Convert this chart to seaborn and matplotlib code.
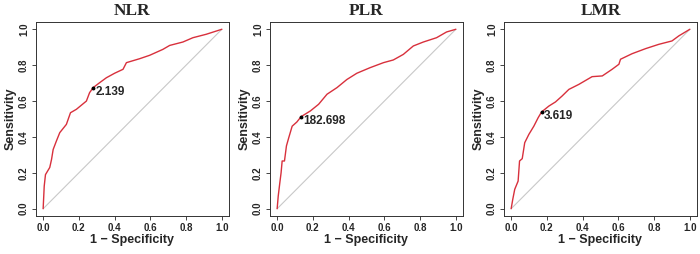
import numpy as np
import pandas as pd
import matplotlib
matplotlib.use("Agg")
import matplotlib.pyplot as plt
import seaborn as sns

# ------------------------------------------------------------
# Données (1 - spécificité, sensibilité)
# ------------------------------------------------------------
nlr_fpr = [0, 0.006, 0.013, 0.037, 0.047, 0.056, 0.074, 0.093, 0.13, 0.153, 0.186,
           0.242, 0.26, 0.28, 0.317, 0.354, 0.40, 0.447, 0.466, 0.54, 0.596, 0.67,
           0.708, 0.782, 0.838, 0.912, 1.0]
nlr_tpr = [0, 0.126, 0.19, 0.23, 0.275, 0.33, 0.377, 0.424, 0.47, 0.535, 0.554,
           0.60, 0.647, 0.675, 0.703, 0.73, 0.755, 0.777, 0.814, 0.836, 0.855, 0.888,
           0.91, 0.929, 0.953, 0.972, 1.0]

plr_fpr = [0, 0.006, 0.015, 0.022, 0.028, 0.041, 0.052, 0.065, 0.084, 0.11, 0.134,
           0.186, 0.232, 0.279, 0.335, 0.39, 0.446, 0.52, 0.595, 0.65, 0.706, 0.762,
           0.818, 0.892, 0.948, 1.0]
plr_tpr = [0, 0.07, 0.145, 0.20, 0.266, 0.266, 0.35, 0.396, 0.46, 0.483, 0.513,
           0.545, 0.582, 0.638, 0.675, 0.72, 0.755, 0.786, 0.814, 0.829, 0.86, 0.907,
           0.929, 0.953, 0.985, 1.0]

lmr_fpr = [0, 0.009, 0.02, 0.039, 0.047, 0.062, 0.076, 0.099, 0.127, 0.151, 0.17,
           0.211, 0.248, 0.285, 0.323, 0.379, 0.453, 0.51, 0.565, 0.603, 0.612, 0.677,
           0.752, 0.826, 0.90, 0.938, 1.0]
lmr_tpr = [0, 0.052, 0.108, 0.154, 0.266, 0.279, 0.368, 0.414, 0.46, 0.507, 0.539,
           0.572, 0.595, 0.628, 0.665, 0.693, 0.736, 0.74, 0.777, 0.805, 0.833, 0.864,
           0.892, 0.916, 0.935, 0.963, 1.0]

titres = ["NLR", "PLR", "LMR"]
seuils = ["2.139", "182.698", "3.619"]
seuil_fpr = [0.28, 0.134, 0.17]
seuil_tpr = [0.675, 0.513, 0.539]
ticks = [0.0, 0.2, 0.4, 0.6, 0.8, 1.0]

courbes = [(nlr_fpr, nlr_tpr), (plr_fpr, plr_tpr), (lmr_fpr, lmr_tpr)]

# ------------------------------------------------------------
# Figure
# ------------------------------------------------------------
sns.set_style("ticks")
plt.rcParams['font.family'] = ['Liberation Sans', 'DejaVu Sans']

fig = plt.figure(figsize=(7, 2.54), dpi=100)
lefts = [36 / 700, 270 / 700, 504 / 700]

for i in range(3):
    ax = fig.add_axes([lefts[i], 0.150, 193 / 700, 0.763])
    fpr, tpr = courbes[i]
    df = pd.DataFrame({"fpr": fpr, "tpr": tpr})

    # diagonale
    sns.lineplot(x=[0, 1], y=[0, 1], color="#c8c8c8", lw=0.8, ax=ax)
    # courbe ROC
    sns.lineplot(data=df, x="fpr", y="tpr", color="#d8303c", lw=1.0,
                 sort=False, estimator=None, ax=ax)
    # seuil optimal
    ax.plot(seuil_fpr[i], seuil_tpr[i], "o", color="black", ms=1.8)
    ax.annotate(seuils[i], (seuil_fpr[i], seuil_tpr[i]), xytext=(1.5, -3),
                textcoords="offset points", ha="left", va="center",
                fontsize=8.5, fontweight="bold")

    ax.set_xlim(-0.04, 1.04)
    ax.set_ylim(-0.04, 1.04)
    ax.set_xticks(ticks)
    ax.set_yticks(ticks)
    ax.set_xticklabels([f"{t:.1f}" for t in ticks], fontsize=7, fontweight="bold")
    ax.set_yticklabels([f"{t:.1f}" for t in ticks], fontsize=7, fontweight="bold",
                       rotation=90, va="center")
    ax.tick_params(length=3, width=0.6, pad=2)
    for s in ax.spines.values():
        s.set_visible(True)
        s.set_linewidth(0.7)
        s.set_color("#333333")

    ax.set_xlabel("1 \u2212 Specificity", fontsize=9, fontweight="bold", labelpad=1)
    ax.set_ylabel("Sensitivity", fontsize=9, fontweight="bold", labelpad=2)
    ax.set_title(titres[i], fontsize=12.5, fontweight="bold",
                 family=["Liberation Serif", "DejaVu Serif"], pad=5)

fig.savefig("out.png", dpi=100)
